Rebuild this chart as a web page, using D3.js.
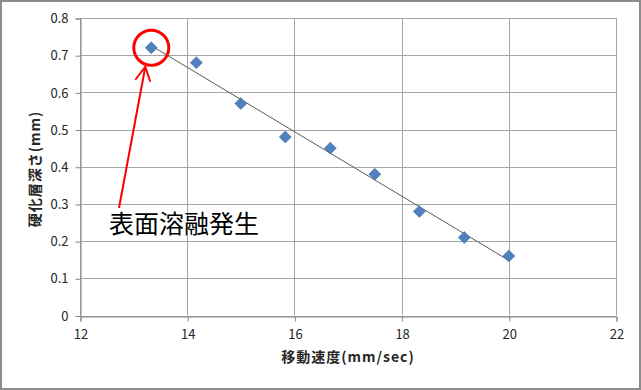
<!DOCTYPE html>
<html>
<head>
<meta charset="utf-8">
<script src="https://cdn.jsdelivr.net/npm/d3@7"></script>
<style>
  body { margin: 0; background: #fff; }
  text { font-family: "Noto Sans CJK JP", "Noto Sans", sans-serif; }
</style>
</head>
<body>
<svg id="chart" width="641" height="390"></svg>
<script>
// data
const speed = [13.33, 14.17, 15.0, 15.83, 16.67, 17.5, 18.33, 19.17, 20.0];
const depth = [0.72, 0.68, 0.57, 0.48, 0.45, 0.38, 0.28, 0.21, 0.16];
const xTicks = [12, 14, 16, 18, 20, 22];
const yTicks = [0, 0.1, 0.2, 0.3, 0.4, 0.5, 0.6, 0.7, 0.8];
const xTitle = "移動速度(mm/sec)";
const yTitle = "硬化層深さ(mm)";
const note = "表面溶融発生";

const width = 641, height = 390;
const margin = { top: 18, right: 25, bottom: 74, left: 80 };

const svg = d3.select("#chart");

// chart area border
svg.append("rect")
  .attr("x", 1).attr("y", 1)
  .attr("width", width - 2).attr("height", height - 2)
  .attr("fill", "#fff")
  .attr("stroke", "#8c8c8c")
  .attr("stroke-width", 2);

const x = d3.scaleLinear().domain([12, 22]).range([margin.left, width - margin.right]);
const y = d3.scaleLinear().domain([0, 0.8]).range([height - margin.bottom - 0.5, margin.top]);

const g = svg.append("g");

// grid
g.selectAll(".hgrid").data(yTicks).enter().append("line")
  .attr("x1", x(12)).attr("x2", x(22))
  .attr("y1", d => Math.round(y(d)) + 0.5).attr("y2", d => Math.round(y(d)) + 0.5)
  .attr("stroke", "#a6a6a6").attr("stroke-width", 1);
g.selectAll(".vgrid").data(xTicks).enter().append("line")
  .attr("x1", d => Math.round(x(d)) + 0.5).attr("x2", d => Math.round(x(d)) + 0.5)
  .attr("y1", y(0)).attr("y2", y(0.8))
  .attr("stroke", "#a6a6a6").attr("stroke-width", 1);

// axes
const xAxis = d3.axisBottom(x).tickValues(xTicks).tickSize(5).tickPadding(8).tickFormat(d3.format("d"));
const yAxis = d3.axisLeft(y).tickValues(yTicks).tickSize(5).tickPadding(7).tickFormat(d => d === 0 ? "0" : d3.format(".1f")(d));

const gx = svg.append("g")
  .attr("transform", `translate(0.5,${Math.round(y(0)) + 0.5})`)
  .call(xAxis);
const gy = svg.append("g")
  .attr("transform", `translate(${Math.round(x(12)) + 0.5},0.5)`)
  .call(yAxis);

[gx, gy].forEach(a => {
  a.select(".domain").attr("stroke", "#868686");
  a.selectAll(".tick line").attr("stroke", "#868686");
  a.selectAll("text").attr("fill", "#262626").attr("font-size", 13);
});

// trend line (least squares of the data)
const mx = d3.mean(speed), my = d3.mean(depth);
const slope = d3.sum(speed, (v, i) => (v - mx) * (depth[i] - my)) / d3.sum(speed, v => (v - mx) ** 2);
const icept = my - slope * mx;
const x0 = d3.min(speed), x1 = d3.max(speed);
g.append("line")
  .attr("x1", x(x0)).attr("y1", y(icept + slope * x0))
  .attr("x2", x(x1)).attr("y2", y(icept + slope * x1))
  .attr("stroke", "#595959").attr("stroke-width", 1);

// markers
const pts = speed.map((v, i) => ({ x: v, y: depth[i] }));
g.selectAll(".pt").data(pts).enter().append("path")
  .attr("class", "pt")
  .attr("transform", d => `translate(${x(d.x)},${y(d.y)})`)
  .attr("d", "M0,-6L6,0L0,6L-6,0Z")
  .attr("fill", "#4f81bd")
  .attr("stroke", "#3f6fa8")
  .attr("stroke-width", 0.6);

// annotation: circle + arrow + label
const first = pts[0];
svg.append("circle")
  .attr("cx", x(first.x)).attr("cy", y(first.y))
  .attr("r", 17.5)
  .attr("fill", "none").attr("stroke", "#ff0000").attr("stroke-width", 3);

const tip = [x(first.x) - 6, y(first.y) + 19];
const tail = [119, 208];
svg.append("line")
  .attr("x1", tail[0]).attr("y1", tail[1])
  .attr("x2", tip[0]).attr("y2", tip[1])
  .attr("stroke", "#ff0000").attr("stroke-width", 2);
svg.append("path")
  .attr("d", `M${tip[0] - 10},${tip[1] + 13}L${tip[0]},${tip[1]}L${tip[0] + 5},${tip[1] + 15}`)
  .attr("fill", "none").attr("stroke", "#ff0000").attr("stroke-width", 2);

svg.append("text")
  .attr("x", 109).attr("y", 233)
  .attr("font-size", 25)
  .attr("fill", "#000")
  .text(note);

// axis titles
svg.append("text")
  .attr("x", 348).attr("y", 362)
  .attr("text-anchor", "middle")
  .attr("font-size", 14).attr("font-weight", "bold")
  .attr("letter-spacing", 1)
  .attr("fill", "#262626")
  .text(xTitle);

svg.append("text")
  .attr("transform", `translate(40,169) rotate(-90)`)
  .attr("text-anchor", "middle")
  .attr("font-size", 14).attr("font-weight", "bold")
  .attr("letter-spacing", 1)
  .attr("fill", "#262626")
  .text(yTitle);
</script>
</body>
</html>
